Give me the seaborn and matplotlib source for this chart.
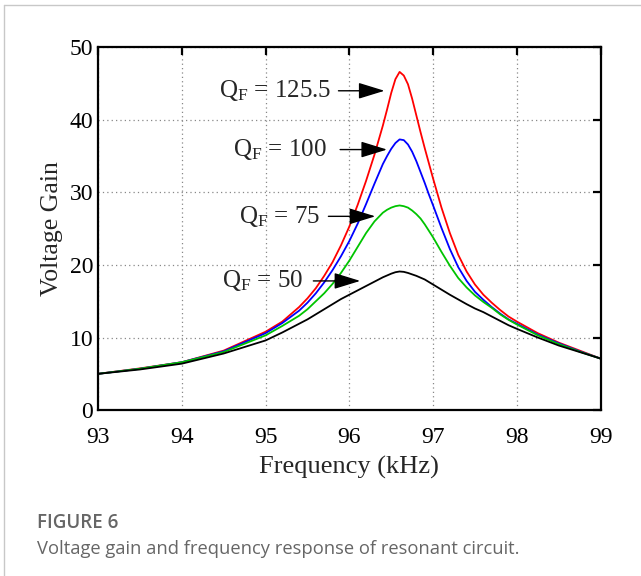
import numpy as np
import pandas as pd
import matplotlib
matplotlib.use("Agg")
import matplotlib.pyplot as plt
from matplotlib.lines import Line2D
import seaborn as sns

# Frequency samples (kHz)
freq = [93.0, 93.5, 94.0, 94.5, 95.0, 95.2, 95.4, 95.5, 95.6, 95.7, 95.8, 95.9,
        96.0, 96.1, 96.2, 96.3, 96.4, 96.45, 96.5, 96.55, 96.6, 96.65, 96.7,
        96.75, 96.8, 96.85, 96.9, 96.95, 97.0, 97.1, 97.2, 97.3, 97.4, 97.5,
        97.6, 97.7, 97.8, 97.9, 98.0, 98.25, 98.5, 98.75, 99.0]

# Voltage gain for each quality factor
gain_125 = [5.0, 5.75, 6.6, 8.2, 10.8, 12.2, 14.2, 15.4, 16.8, 18.5, 20.4, 22.7,
            25.3, 28.3, 31.6, 35.2, 39.2, 41.4, 43.7, 45.6, 46.6, 46.1, 44.9,
            42.9, 40.6, 38.3, 36.1, 34.0, 31.9, 27.9, 24.4, 21.4, 19.1, 17.3,
            15.9, 14.8, 13.8, 12.9, 12.2, 10.6, 9.3, 8.2, 7.1]
gain_100 = [5.0, 5.7, 6.6, 8.1, 10.6, 12.0, 13.7, 14.8, 16.1, 17.6, 19.3, 21.2,
            23.3, 25.7, 28.4, 31.2, 33.9, 35.0, 36.0, 36.8, 37.3, 37.2, 36.6,
            35.6, 34.3, 32.8, 31.3, 29.7, 28.2, 25.1, 22.2, 19.7, 17.8, 16.3,
            15.2, 14.2, 13.3, 12.5, 11.9, 10.4, 9.2, 8.1, 7.1]
gain_75 = [5.0, 5.7, 6.6, 8.0, 10.3, 11.6, 13.0, 13.9, 15.0, 16.1, 17.4, 18.9,
           20.6, 22.5, 24.4, 26.0, 27.2, 27.6, 27.9, 28.1, 28.2, 28.1, 27.9,
           27.5, 27.0, 26.4, 25.6, 24.7, 23.8, 21.8, 19.9, 18.2, 16.9, 15.8,
           14.9, 14.1, 13.2, 12.45, 11.8, 10.3, 9.1, 8.05, 7.1]
gain_50 = [5.0, 5.6, 6.4, 7.8, 9.6, 10.7, 11.9, 12.5, 13.2, 13.9, 14.6, 15.3,
           15.9, 16.5, 17.1, 17.7, 18.3, 18.55, 18.8, 19.0, 19.1, 19.05, 18.9,
           18.7, 18.5, 18.25, 18.0, 17.65, 17.3, 16.6, 15.9, 15.25, 14.6, 14.0,
           13.5, 12.9, 12.3, 11.7, 11.2, 10.0, 8.9, 8.0, 7.1]

series_names = ["125.5", "100", "75", "50"]
series_colors = ["#ff0000", "#0000ff", "#00c400", "#000000"]

# Annotation labels: text right end x, y, arrow start x, arrow tip x
labels = ["125.5", "100", "75", "50"]
label_x = [95.79, 95.73, 95.65, 95.45]
label_y = [44.0, 35.9, 26.7, 17.8]
arrow_x0 = [95.87, 95.89, 95.75, 95.57]
arrow_x1 = [96.42, 96.45, 96.31, 96.13]

df = pd.concat([
    pd.DataFrame({"freq": freq, "gain": g, "Q": n})
    for g, n in zip([gain_125, gain_100, gain_75, gain_50], series_names)
])

sns.set_theme(style="white")
plt.rcParams["font.family"] = ["Liberation Serif", "DejaVu Serif"]
plt.rcParams["mathtext.fontset"] = "custom"
plt.rcParams["mathtext.rm"] = "Liberation Serif"
plt.rcParams["mathtext.it"] = "Liberation Serif:italic"

fig = plt.figure(figsize=(6.41, 5.76), dpi=100)
ax = fig.add_axes([0.153, 0.288, 0.784, 0.630])

sns.lineplot(data=df, x="freq", y="gain", hue="Q", hue_order=series_names,
             palette=series_colors, linewidth=1.3, legend=False, ax=ax,
             sort=False)

ax.set_xlim(93, 99)
ax.set_ylim(0, 50)
ax.set_xticks(range(93, 100))
ax.set_yticks(range(0, 51, 10))
ax.grid(True, linestyle=(0, (1, 2.5)), color="#888888", linewidth=0.9)
ax.tick_params(direction="in", top=True, right=True, length=6, width=1.6,
               labelsize=17, colors="black")
ax.tick_params(axis="x", pad=12)
ax.tick_params(axis="y", pad=3.5)
for s in ax.spines.values():
    s.set_linewidth(1.6)
    s.set_color("black")

ax.set_xlabel("Frequency (kHz)", fontsize=19, labelpad=6)
ax.set_ylabel("Voltage Gain", fontsize=18.5, labelpad=5)

for lab, tx, ty, a0, a1 in zip(labels, label_x, label_y, arrow_x0, arrow_x1):
    ax.text(tx, ty, r"Q$_{\mathrm{F}}$ = " + lab, fontsize=18, ha="right",
            va="center")
    ax.annotate("", xy=(a1, ty), xytext=(a0, ty),
                arrowprops=dict(arrowstyle="-|>,head_length=0.65,head_width=0.2",
                                mutation_scale=25, color="black", lw=1,
                                shrinkA=0, shrinkB=0))

# light frame of the figure panel
fig.add_artist(Line2D([4 / 641, 1], [1 - 5 / 576, 1 - 5 / 576], color="#c8c8c8", lw=1))
fig.add_artist(Line2D([4 / 641, 4 / 641], [0, 1 - 5 / 576], color="#c8c8c8", lw=1))

fig.text(37 / 641, 1 - 523 / 576, "FIGURE 6", family="Open Sans", weight="semibold",
         fontsize=13.5, color="#666666", va="center")
fig.text(37 / 641, 1 - 549 / 576,
         "Voltage gain and frequency response of resonant circuit.",
         family="Open Sans", fontsize=13.2, color="#666666", va="center")

fig.savefig("out.png", dpi=100)
